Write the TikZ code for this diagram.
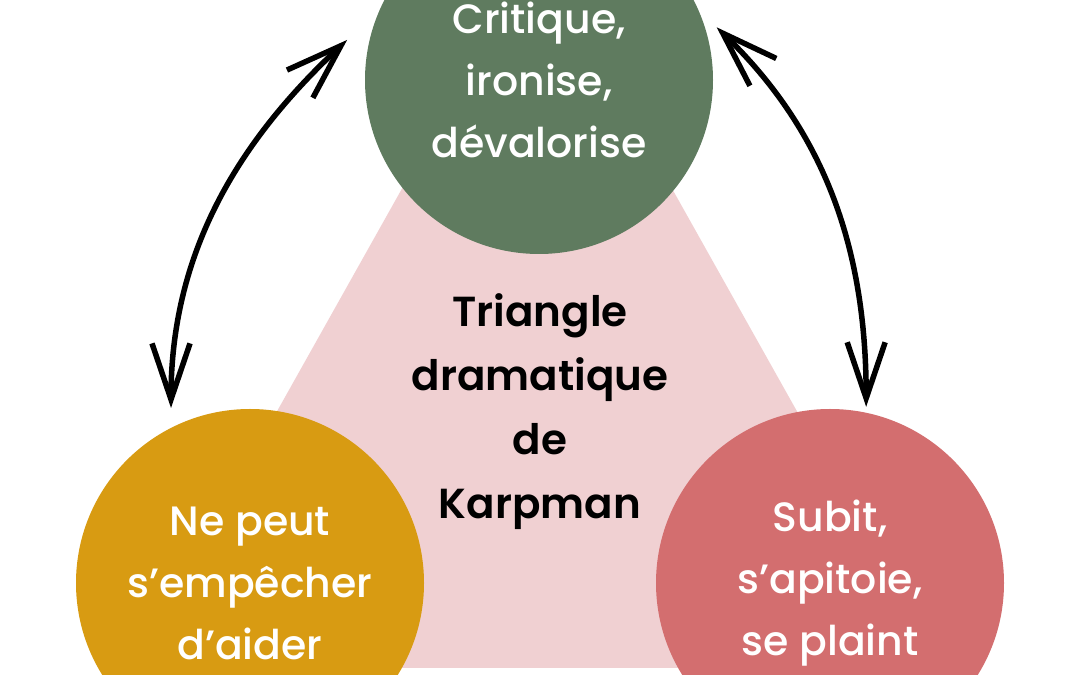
\documentclass[tikz,border=0pt]{standalone}
\usepackage{fontspec}
\setmainfont{Poppins}
\newfontfamily\rolefont{Poppins Medium}
\newfontfamily\titrefont{Poppins SemiBold}
\usepackage{xcolor}
\usetikzlibrary{arrows.meta}

\definecolor{vert}{HTML}{5F7B5F}
\definecolor{jaune}{HTML}{D89B12}
\definecolor{rouge}{HTML}{D36E6F}
\definecolor{rose}{HTML}{F0D0D2}

\tikzset{
    role/.style={circle, minimum size=348pt, inner sep=0pt, outer sep=0pt,
        text=white, align=center, font=\rolefont\fontsize{41}{62}\selectfont},
    fleche/.style={{Straight Barb[length=56pt, width=38pt]}-{Straight Barb[length=56pt, width=38pt]},
        line width=5.5pt, black},
}

\begin{document}
\begin{tikzpicture}[x=1pt, y=1pt]
                \useasboundingbox (0,0) rectangle (1080,675);
                \fill[white] (0,0) rectangle (1080,675);
                % triangle
                \fill[rose] (537,727) -- (133,7) -- (941,7) -- cycle;
                \node[align=center, font=\titrefont\fontsize{42}{64}\selectfont] (titre) at (540,263)
                    {Triangle\\dramatique\\de\\Karpman};
                % les trois roles
                \node[role, fill=vert] (persecuteur) at (539,595) {Critique,\\ironise,\\dévalorise};
                \node[role, fill=jaune] (sauveur) at (250,92) {Ne peut\\s’empêcher\\d’aider};
                \node[role, fill=rouge] (victime) at (830,92) {Subit,\\s’apitoie,\\se plaint};
                % fleches
                \draw[fleche, shorten <=45pt, shorten >=20pt] (persecuteur.156) to[out=223, in=90] (sauveur.117);
                \draw[fleche, shorten <=26pt, shorten >=6pt] (persecuteur.24) to[out=-44, in=90] (victime.78);
\end{tikzpicture}
\end{document}
